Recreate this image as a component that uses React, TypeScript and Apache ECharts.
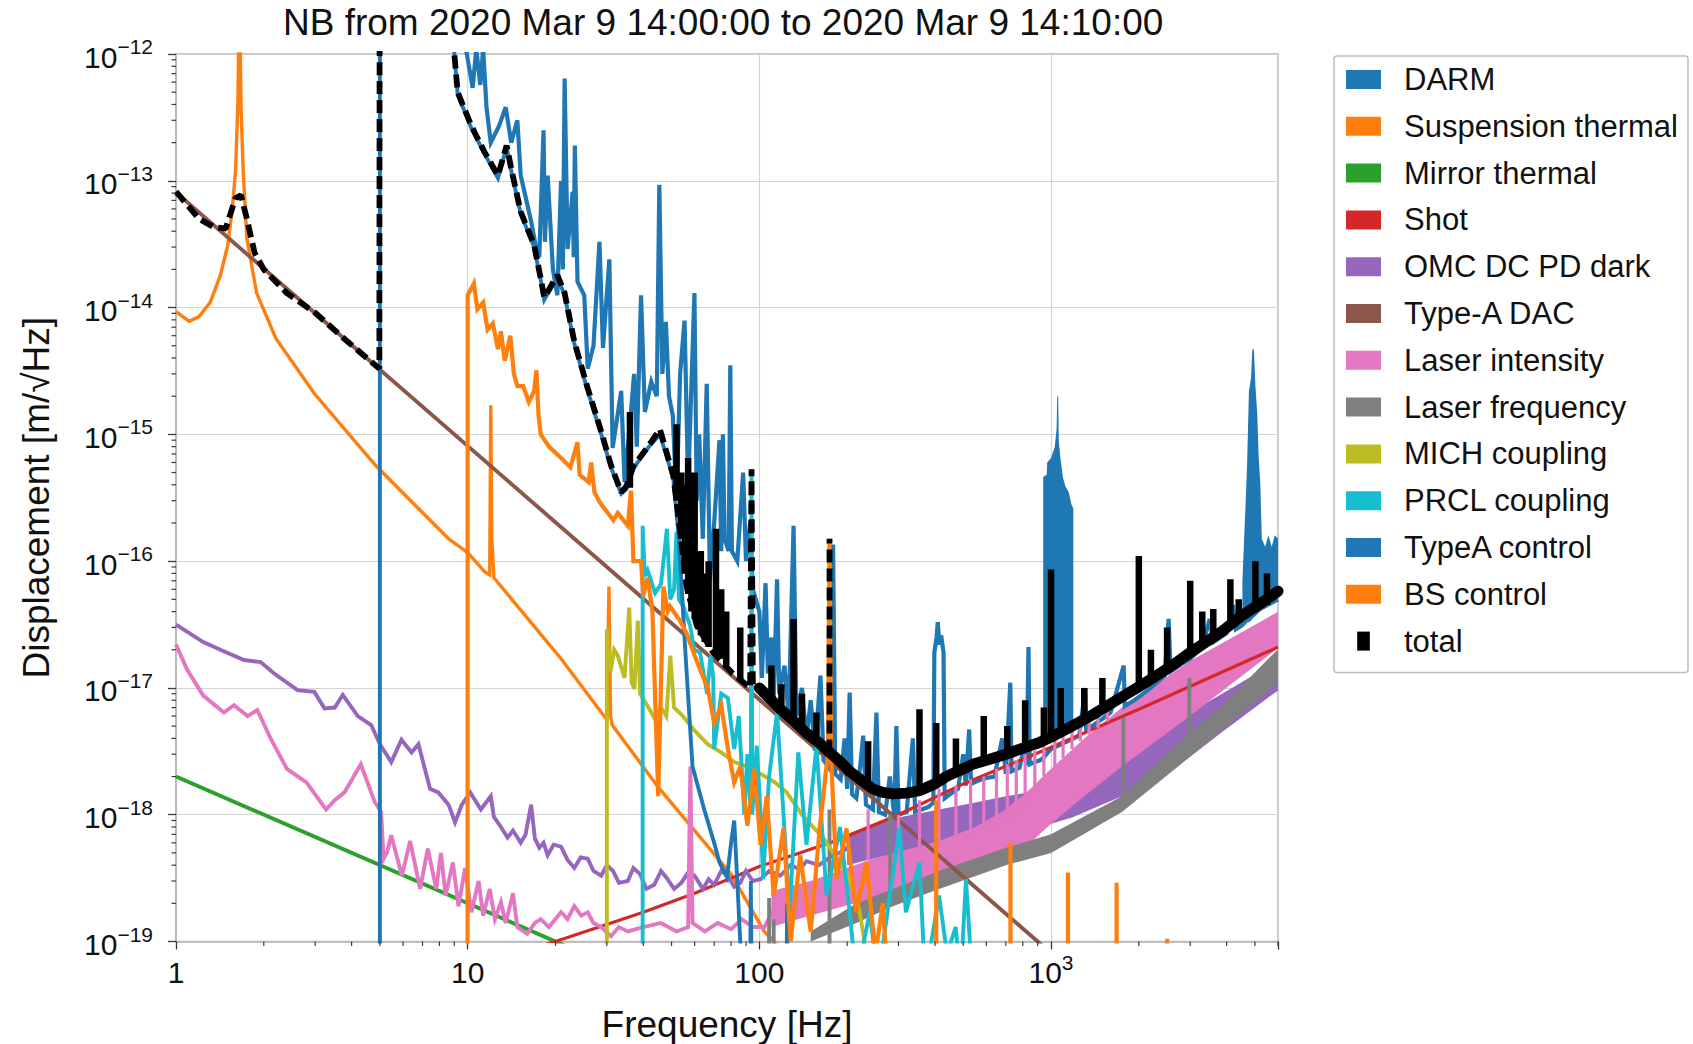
import React, { useEffect, useRef } from 'react';
import * as echarts from 'echarts';

const FONT = "'Liberation Sans', Arial, Helvetica, sans-serif";
const TITLE = 'NB from 2020 Mar 9 14:00:00 to 2020 Mar 9 14:10:00';
const X_NAME = 'Frequency [Hz]';
const Y_NAME = 'Displacement [m/√Hz]';

const NAMES = ['DARM', 'Suspension thermal', 'Mirror thermal', 'Shot', 'OMC DC PD dark', 'Type-A DAC',
  'Laser intensity', 'Laser frequency', 'MICH coupling', 'PRCL coupling', 'TypeA control', 'BS control', 'total'];
const COLORS = ['#1f77b4', '#ff7f0e', '#2ca02c', '#d62728', '#9467bd', '#8c564b',
  '#e377c2', '#7f7f7f', '#bcbd22', '#17becf', '#1f77b4', '#ff7f0e', '#000000'];

// tick labels: [base, exponent]
const X_TICK_LABELS = [['1', ''], ['10', ''], ['100', ''], ['10', '3']];
const Y_TICK_EXPONENTS = ['−19', '−18', '−17', '−16', '−15', '−14', '−13', '−12'];

// ---------- data ([Hz, m/rtHz]) ----------
const darm = [
  [9.3, 1e-11], [9.8, 1.2e-12], [10.4, 5.4e-13], [10.7, 1.1e-12], [11.05, 5.7e-13], [11.3, 1.1e-12], [11.6, 3.8e-13],
  [12.0, 2.0e-13], [12.8, 2.7e-13], [13.5, 3.8e-13], [14.1, 2.0e-13], [14.8, 3.0e-13], [15.2, 1.1e-13], [16.5, 4.8e-14],
  [17.1, 3.1e-14], [17.6, 2.5e-14], [18.2, 2.5e-13], [18.4, 3.3e-14], [18.8, 1.1e-13], [19.6, 2.0e-14], [20.3, 1.25e-14],
  [20.9, 1.0e-13], [21.2, 2.0e-14], [21.5, 6.4e-13], [22.0, 2.9e-14], [22.9, 8.2e-14], [23.1, 2.5e-14], [23.3, 1.9e-13],
  [23.8, 1.6e-14], [25.1, 1.25e-14], [25.8, 3.3e-15], [27.0, 5.0e-15], [28.3, 3.3e-14], [29.1, 4.8e-15], [30.6, 2.4e-14],
  [31.4, 7.8e-16], [33.6, 2.2e-15], [34.5, 4.2e-16], [36.0, 1.2e-15], [37.2, 3.0e-15], [38.0, 8.0e-16], [39.3, 1.25e-14],
  [40.5, 1.5e-15], [42.6, 2.6e-15], [44.5, 2.0e-15], [45.4, 9.3e-14], [46.5, 3.0e-15], [47.8, 7.7e-15], [49.0, 2.0e-15],
  [50.5, 1.4e-15], [52.0, 3.0e-16], [53.5, 3.0e-15], [55.4, 7.9e-15], [57.0, 4.0e-16], [59.9, 1.3e-14], [61.0, 3.0e-16],
  [62.2, 1.0e-15], [64.0, 1.5e-16], [66.0, 2.5e-15], [67.7, 7.2e-17], [70.0, 2.0e-16], [73.0, 9.0e-16], [74.0, 1.2e-16],
  [75.0, 1.0e-15], [76.0, 1.5e-16], [78.5, 1.2e-16], [79.5, 3.5e-15], [80.5, 1.2e-16], [84.0, 1.0e-16], [88.0, 5.0e-16],
  [90.0, 1.0e-16], [93.0, 2.0e-16], [95.0, 6.0e-17], [100, 4.0e-17],
  [102, 1.2e-17], [105, 6.7e-17], [107, 1.3e-17], [110, 2.5e-17], [112, 8e-18], [115, 7.2e-17], [117, 9e-18], [122, 1.5e-17],
  [126, 6e-18], [131, 1.9e-16], [134, 6e-18], [140, 1e-17], [145, 4e-18], [150, 8e-18], [155, 3.2e-18], [162, 1.25e-17],
  [166, 2.7e-18], [172, 2.4e-18], [176, 1.3e-16], [179, 1.3e-16], [182, 2.1e-18], [190, 1.9e-18], [196, 4e-18], [200, 1.6e-18],
  [204, 9.2e-18], [208, 1.45e-18], [215, 1.35e-18], [222, 2.5e-18], [227, 4.2e-18], [232, 1.2e-18], [245, 1.1e-18],
  [252, 6.4e-18], [257, 1.05e-18], [270, 1.0e-18], [280, 2e-18], [290, 1.0e-18], [295, 5e-18], [300, 1.0e-18], [320, 1.05e-18],
  [336, 4e-18], [342, 1.05e-18], [360, 1.1e-18], [380, 1.15e-18], [395, 1.25e-18], [398, 1.9e-17], [405, 2.5e-17],
  [409, 3.3e-17], [414, 2.2e-17], [420, 2.6e-17], [428, 1.9e-17], [432, 1.35e-18], [450, 1.45e-18], [480, 1.6e-18],
  [500, 3e-18], [510, 1.7e-18], [524, 4.7e-18], [532, 1.75e-18], [560, 1.85e-18], [600, 1.95e-18], [640, 2.0e-18], [680, 4e-18],
  [700, 2.1e-18], [725, 1.1e-17], [732, 2.2e-18], [780, 2.35e-18], [810, 3.5e-18], [825, 2.45e-18], [837, 2.1e-17],
  [845, 2.5e-18], [880, 2.6e-18], [920, 2.7e-18], [940, 2.8e-18], [1000, 3.3e-18], [1195, 4e-18], [1250, 4.2e-18],
  [1310, 1e-17], [1320, 4.6e-18], [1400, 5.1e-18], [1500, 5.7e-18], [1600, 6.4e-18], [1775, 1.5e-17], [1790, 7.2e-18],
  [1900, 7.8e-18], [2000, 8.5e-18], [2150, 9.6e-18], [2300, 1.1e-17], [2450, 1.25e-17], [2530, 3.5e-17], [2570, 1.35e-17],
  [2800, 1.55e-17], [3000, 1.7e-17], [3300, 2.1e-17], [3500, 3.5e-17], [3600, 2.3e-17], [4000, 2.7e-17], [4200, 4.5e-17],
  [4300, 2.9e-17], [4500, 3.1e-17], [5000, 4e-17], [6000, 5e-17],
];
// dense DARM peaks: [Hz, low, high]
const darmPeak1kHz = [
  [940, 4e-18, 4.6e-16], [966, 4e-18, 4.8e-16], [970, 4e-18, 6e-16], [1000, 4e-18, 6.5e-16], [1030, 4e-18, 8e-16],
  [1045, 4.2e-18, 1.1e-15], [1050, 4.2e-18, 2e-15], [1058, 4.2e-18, 2e-15], [1063, 4.2e-18, 9e-16], [1076, 4.3e-18, 6.6e-16],
  [1100, 4.3e-18, 4.5e-16], [1120, 4.3e-18, 3.9e-16], [1150, 4.4e-18, 3.5e-16], [1175, 4.4e-18, 2.8e-16], [1192, 4.4e-18, 2.6e-16],
];
const darmPeak5kHz = [
  [4530, 3.1e-17, 7e-17], [4580, 3.1e-17, 1.3e-16], [4650, 3.2e-17, 3e-16], [4700, 3.3e-17, 5.7e-16], [4770, 3.3e-17, 2.2e-15],
  [4850, 3.4e-17, 2.8e-15], [4900, 3.5e-17, 4.7e-15], [4960, 3.6e-17, 4.7e-15], [5020, 3.7e-17, 2.4e-15], [5090, 3.8e-17, 1.5e-15],
  [5150, 3.9e-17, 6.7e-16], [5220, 4e-17, 4e-16], [5280, 4.1e-17, 1.5e-16], [5420, 4.3e-17, 1.3e-16], [5560, 4.5e-17, 1.6e-16],
  [5710, 4.7e-17, 1.3e-16], [5850, 4.9e-17, 1.6e-16], [6000, 5e-17, 1.5e-16],
];

const suspensionThermal = [
  [1.0, 9.3e-15], [1.11, 7.8e-15], [1.2, 8.5e-15], [1.31, 1.1e-14], [1.42, 1.8e-14], [1.505, 3.1e-14], [1.56, 6e-14],
  [1.6, 1.2e-13], [1.63, 4e-13], [1.645, 2e-12], [1.655, 2e-12], [1.67, 4e-13], [1.70, 1.18e-13], [1.75, 3.5e-14],
  [1.89, 1.3e-14], [2.2, 5.7e-15], [2.98, 2.1e-15], [4.83, 5.7e-16], [8.6, 1.5e-16], [10, 1.17e-16], [11.4, 8.3e-17],
  [11.9, 7.8e-17], [12.0, 1.7e-15], [12.1, 1.5e-16], [12.3, 7.4e-17], [20.9, 1.7e-17], [30.0, 5.6e-18], [30.5, 6.3e-17],
  [30.9, 6e-18], [31.3, 5.1e-18], [45, 1.65e-18], [80, 3.4e-19], [104, 1.2e-19], [140, 6e-20],
];
const mirrorThermal = [[1, 2e-18], [100, 2e-20]];
const shot = [[10, 6e-20], [20, 1e-19], [40, 1.7e-19], [60, 2.4e-19], [100, 3.9e-19], [185, 6.3e-19], [300, 1e-18],
  [500, 1.75e-18], [970, 3.3e-18], [2000, 6.8e-18], [6000, 2.1e-17]];

const omcDark = [
  [1, 3.16e-17], [1.24, 2.3e-17], [1.42, 2e-17], [1.71, 1.66e-17], [1.95, 1.6e-17], [2.17, 1.3e-17], [2.61, 9.6e-18],
  [2.98, 9.3e-18], [3.23, 6.9e-18], [3.5, 7e-18], [3.73, 8.8e-18], [4.2, 6e-18], [4.67, 5.1e-18], [5.0, 3.6e-18],
  [5.47, 2.6e-18], [5.93, 3.9e-18], [6.42, 3.1e-18], [6.78, 3.6e-18], [7.43, 1.6e-18], [7.93, 1.5e-18], [8.6, 1.2e-18],
  [9.05, 8.7e-19], [9.55, 1.2e-18], [10.2, 1.5e-18], [11.1, 1.1e-18], [12.0, 1.4e-18], [12.3, 9.6e-19], [13, 8e-19],
  [13.7, 6.6e-19], [14.3, 7.5e-19], [15.2, 6e-19], [15.8, 7e-19], [16.5, 1.2e-18], [17, 6.5e-19], [17.6, 5.5e-19],
  [18.2, 6e-19], [18.8, 4.8e-19], [19.7, 5.8e-19], [20.9, 5.6e-19], [22, 4.4e-19], [23.2, 3.8e-19], [24.4, 4.6e-19],
  [25.8, 4.5e-19], [27, 3.6e-19], [28.7, 3.3e-19], [30, 4e-19], [31.5, 3.6e-19], [33, 2.9e-19], [35.4, 3e-19],
  [37, 3.8e-19], [39, 3.4e-19], [41, 2.6e-19], [43.6, 2.8e-19], [46, 3.6e-19], [48, 3.2e-19], [51, 2.6e-19],
  [54, 2.9e-19], [57, 3.5e-19], [60, 3.3e-19], [64, 2.6e-19], [67, 3.1e-19], [70, 2.8e-19], [74, 3.6e-19], [78, 3.3e-19],
  [82, 2.7e-19], [86, 2.9e-19], [90, 3.6e-19], [95, 3e-19], [101, 3.1e-19], [108, 3.6e-19], [118, 3.3e-19], [128, 4e-19],
  [138, 3.7e-19], [145, 4.3e-19], [160, 4e-19], [179, 4.8e-19], [195, 5.2e-19], [205, 5.8e-19],
];
const omcDarkBand = [
  [200, 4e-19, 7e-19], [245, 4.5e-19, 8.5e-19], [300, 5e-19, 9.5e-19], [413, 5.5e-19, 1.1e-18], [550, 6.5e-19, 1.25e-18],
  [700, 7.5e-19, 1.4e-18], [1000, 8.5e-19, 1.6e-18], [1180, 9.5e-19, 1.8e-18], [1750, 1.4e-18, 3e-18],
  [2960, 2.8e-18, 6.3e-18], [3860, 4.5e-18, 9e-18], [5900, 9.3e-18, 1.6e-17], [6000, 9.5e-18, 1.65e-17],
];

const typeADac = [[1, 8.1e-14], [1000, 8.1e-20]];

const laserIntensity = [
  [1, 2.2e-17], [1.09, 1.4e-17], [1.24, 8.7e-18], [1.46, 6.4e-18], [1.58, 7.3e-18], [1.76, 6e-18], [1.9, 6.7e-18],
  [2.11, 4e-18], [2.4, 2.3e-18], [2.8, 1.8e-18], [3.27, 1.1e-18], [3.5, 1.3e-18], [3.78, 1.5e-18], [4.3, 2.5e-18],
  [4.8, 1.26e-18], [5.05, 1.05e-18], [5.15, 4.5e-19], [5.3, 5.1e-19], [5.47, 6.9e-19], [5.95, 3.3e-19], [6.35, 6.2e-19],
  [6.87, 2.6e-19], [7.3, 5.4e-19], [7.8, 2.6e-19], [8.1, 5e-19], [8.4, 2.3e-19], [8.9, 4.2e-19], [9.3, 1.9e-19],
  [9.8, 3.8e-19], [10.3, 1.7e-19], [10.9, 3e-19], [11.3, 1.6e-19], [11.9, 2.6e-19], [12.4, 1.5e-19], [13, 2.05e-19],
  [13.5, 1.4e-19], [14.3, 2.4e-19], [14.8, 1.3e-19], [16, 1.15e-19], [17, 1.4e-19], [17.8, 1.5e-19], [19, 1.3e-19],
  [20.9, 1.7e-19], [22, 1.5e-19], [23.2, 1.9e-19], [24.5, 1.6e-19], [25.8, 1.7e-19], [27, 1.4e-19], [28.7, 1.3e-19],
  [31, 1.1e-19], [33, 1.3e-19], [35.4, 1.2e-19], [40, 1.3e-19], [46, 1.4e-19], [52, 1.2e-19], [57, 1.3e-19],
  [58, 2.4e-18], [59, 1.4e-19], [65, 1.2e-19], [72, 1.4e-19], [80, 1.25e-19], [87, 1.5e-19], [95, 1.3e-19],
  [104, 1.3e-19], [112, 1.8e-19],
];
const laserIntensityBand = [
  [110, 1.3e-19, 2.5e-19], [150, 1.6e-19, 3e-19], [245, 2.2e-19, 4.5e-19], [413, 3e-19, 6.2e-19], [550, 3.7e-19, 8e-19],
  [700, 4.5e-19, 1.1e-18], [850, 6e-19, 1.6e-18], [1000, 8.5e-19, 2.3e-18], [1300, 1.4e-18, 4e-18], [1750, 2.4e-18, 7e-18],
  [2960, 5.9e-18, 1.6e-17], [5900, 2e-17, 3.9e-17], [6000, 2.1e-17, 4e-17],
];
const laserIntensitySpikes = [
  [236, 4.4e-19, 1.1e-18], [300, 5e-19, 1e-18], [354, 5.5e-19, 1.3e-18], [413, 6e-19, 1.6e-18], [472, 6.4e-19, 1.7e-18],
  [530, 6.8e-19, 1.9e-18], [588, 7.5e-19, 2e-18], [650, 8.2e-19, 2.3e-18], [708, 9e-19, 2.5e-18], [760, 1e-18, 2.7e-18],
  [815, 1.2e-18, 3e-18], [880, 1.6e-18, 3.2e-18], [945, 2e-18, 3.5e-18], [1030, 2.4e-18, 4e-18], [1100, 2.8e-18, 4.3e-18],
  [1180, 3.3e-18, 4.6e-18], [1260, 3.8e-18, 5e-18], [1350, 4.3e-18, 5.6e-18], [1450, 4.8e-18, 6e-18], [1560, 5.4e-18, 6.5e-18],
];

const laserFrequencyBand = [
  [150, 1e-19, 1.2e-19], [215, 1.4e-19, 2e-19], [287, 1.9e-19, 2.6e-19], [413, 2.6e-19, 3.6e-19], [700, 4e-19, 5.5e-19],
  [1000, 5e-19, 7e-19], [1750, 1.05e-18, 1.4e-18], [2960, 2.8e-18, 4.4e-18], [3860, 4.7e-18, 7.2e-18],
  [5900, 1.07e-17, 1.95e-17], [6000, 1.1e-17, 2e-17],
];
const laserFrequencySpikes = [
  [108, 5e-20, 2.2e-19], [112, 5e-20, 1.5e-19], [174, 5e-20, 1.1e-18], [281, 2.2e-19, 1e-18], [1770, 1.3e-18, 5.8e-18],
  [2980, 3.5e-18, 1.2e-17],
];

const michCoupling = [
  [30.0, 1e-21], [30.0, 2.9e-17], [30.9, 1.35e-17], [31.8, 2e-17], [32.7, 1.8e-17], [34.5, 1.2e-17], [35.8, 4.3e-17],
  [36.5, 1.1e-17], [37.3, 9.8e-18], [38.3, 3.4e-17], [39, 9e-18], [41.4, 7.2e-18], [43.6, 5.8e-18], [46, 7e-18], [48, 6e-18],
  [49.5, 1.8e-17], [51, 7e-18], [54, 6.2e-18], [60, 4.6e-18], [66.5, 3.6e-18], [74, 3.1e-18], [82, 2.6e-18], [91, 2.4e-18],
  [101, 2.1e-18], [113, 1.8e-18], [124, 1.5e-18], [140, 1e-18], [166, 6.5e-19], [185, 4.5e-19], [204, 3.1e-19],
  [220, 1.8e-19], [233, 8e-20],
];

const prclCoupling = [
  [39.8, 1e-21], [39.8, 1.9e-16], [40.5, 7.6e-17], [41.4, 8.5e-17], [43.9, 5.6e-17], [46, 6.6e-17], [48.2, 1.8e-16],
  [49.5, 5e-17], [51, 6e-17], [52, 1.7e-16], [53, 5e-17], [54.9, 4.4e-17], [57.9, 3.1e-17], [59.8, 2e-17], [62.6, 1.9e-17],
  [66.2, 9e-18], [68, 1.8e-17], [69.5, 1.2e-17], [70, 3.3e-18], [74, 9e-18], [78, 8.3e-18], [82, 3.3e-18], [85, 6e-18],
  [88.8, 1e-18], [91, 3e-18], [93.5, 1e-18], [94, 5.3e-16], [94.5, 1e-18], [98, 3.5e-18], [101, 1e-18], [103, 3.1e-19],
  [108, 2e-18], [115, 6.4e-18], [121, 1e-18], [127, 1.7e-19], [136, 3.1e-18], [145, 5.8e-19], [157, 3.5e-18],
  [170, 2.3e-19], [189, 8e-19], [204, 1.7e-19], [215, 5e-20], [239, 1.7e-19], [255, 5e-20], [302, 7.8e-19],
  [318, 1.7e-19], [354, 4.2e-19], [370, 5e-20], [413, 2.3e-19], [440, 8e-20], [471, 1.3e-19], [490, 5e-20],
  [511, 3.1e-19], [537, 5e-20],
];

const typeAControl = [
  [5.0, 1e-21], [5.0, 1e-9], [8.8, 1e-9], [9.0, 1e-12], [9.24, 4.8e-13], [10.3, 2.6e-13], [11.4, 1.65e-13],
  [12.7, 1.05e-13], [13.6, 1.85e-13], [14.1, 1.2e-13], [15.2, 5.5e-14], [16.9, 3e-14], [17.8, 1.65e-14], [18.3, 1.15e-14],
  [20.3, 1.75e-14], [21.5, 1.25e-14], [23.2, 5.2e-15], [25.8, 2.2e-15], [28.7, 1e-15], [31, 5.5e-16], [33.6, 3.4e-16],
  [35, 3.7e-16], [37, 5.4e-16], [41.5, 7.8e-16], [45.6, 1e-15], [50.7, 4.5e-16], [53, 1.5e-16], [55.7, 2e-17],
  [59, 2.4e-18], [64.7, 1.1e-18], [70, 6e-19], [73, 4.2e-19], [77.5, 3.2e-19], [80, 6e-19], [82, 9e-19], [84, 3e-19],
  [86, 1e-19], [88, 5e-20], [93, 5e-20], [93.5, 3e-19], [94, 5e-20], [124, 5e-20], [124.5, 2e-19], [125, 5e-20],
];

const bsControl = [
  [9.99, 1e-21], [10.0, 1.25e-14], [10.5, 1.55e-14], [10.8, 9.7e-15], [11.3, 1.1e-14], [11.7, 6.7e-15], [12.2, 7.5e-15],
  [12.7, 4.7e-15], [13.0, 6.5e-15], [13.4, 3.8e-15], [14.0, 6e-15], [14.4, 3e-15], [14.8, 2.4e-15], [15.5, 2.4e-15],
  [16.2, 1.8e-15], [16.9, 2.2e-15], [17.2, 3.2e-15], [17.5, 1.4e-15], [17.8, 1e-15], [19, 8e-16], [20.9, 6.5e-16],
  [22.5, 5.5e-16], [23.8, 8.7e-16], [24.2, 4.8e-16], [26, 4.2e-16], [26.5, 6e-16], [27.2, 3.5e-16], [28.4, 2.9e-16],
  [31.6, 2.1e-16], [32.7, 2.4e-16], [35.4, 1.9e-16], [36.3, 3.6e-16], [37, 1e-16], [39.3, 1e-16], [40, 5.3e-17],
  [41.4, 7.4e-17], [43, 4e-17], [45, 1.4e-18], [46.9, 6.3e-17], [48.5, 4e-17], [49.4, 4.4e-17], [53.4, 3.4e-17],
  [56.3, 2.7e-17], [60, 1.8e-17], [63, 1.35e-17], [66.5, 1e-17], [70, 5.3e-18], [74, 7.3e-18], [78, 3.3e-18],
  [82, 1.8e-18], [86, 2.4e-18], [91, 8.2e-19], [96, 2.3e-18], [101, 5.8e-19], [106, 1.4e-18], [112, 2.3e-19],
  [121, 7.8e-19], [128, 1e-19], [138, 4.8e-19], [150, 1.2e-19], [161, 7.8e-19], [172, 3.1e-18], [174, 1.5e-16],
  [176, 3e-18], [184, 3.1e-19], [199, 7.8e-19], [215, 1.7e-19], [233, 4.2e-19], [250, 8e-20], [265, 2e-19], [275, 5e-20],
];
const bsControlSpikes = [
  [404, 1e-21, 1.3e-18], [726, 1e-21, 6e-19], [1143, 1e-21, 3.5e-19], [1678, 1e-21, 2.9e-19], [2500, 1e-21, 1.05e-19],
];

const totalLow = [
  [1, 8.2e-14], [1.2, 5e-14], [1.35, 4.3e-14], [1.48, 4.2e-14], [1.6, 7.3e-14], [1.67, 7.7e-14], [1.75, 5e-14],
  [1.86, 2.7e-14], [2.0, 2e-14], [2.4, 1.3e-14], [3.0, 9.1e-15], [3.8, 5.6e-15], [4.76, 3.6e-15], [4.98, 3.3e-15],
  [5.0, 1e-9], [8.8, 1e-9], [9.0, 1e-12], [9.24, 5e-13], [10.3, 2.7e-13], [11.4, 1.7e-13], [12.7, 1.1e-13],
  [13.6, 1.9e-13], [14.1, 1.25e-13], [15.2, 5.7e-14], [16.9, 3.1e-14], [17.8, 1.7e-14], [18.3, 1.2e-14], [20.3, 1.8e-14],
  [21.5, 1.3e-14], [23.2, 5.4e-15], [25.8, 2.3e-15], [28.7, 1.05e-15], [31, 5.7e-16], [33.6, 3.5e-16], [35, 3.9e-16],
  [37, 5.6e-16], [41.5, 8e-16], [45.6, 1.1e-15], [50.7, 4.7e-16], [53.4, 1.8e-16], [56.3, 6.3e-17], [61, 3.1e-17],
  [69.5, 1.9e-17], [81, 1.3e-17], [93, 1e-17], [94, 5.3e-16], [95, 1e-17], [100, 1e-17],
  [174, NaN], [174, 3.1e-18], [174, 1.5e-16],
];
const totalHigh = [
  [100, 1e-17], [110, 8e-18], [118, 6.8e-18], [130, 5.6e-18], [145, 4.4e-18], [160, 3.7e-18], [174, 3.1e-18],
  [190, 2.6e-18], [204, 2.2e-18], [225, 1.85e-18], [245, 1.6e-18], [265, 1.5e-18], [287, 1.46e-18], [320, 1.48e-18],
  [354, 1.55e-18], [400, 1.75e-18], [437, 2e-18], [490, 2.25e-18], [539, 2.5e-18], [620, 2.75e-18], [700, 3e-18],
  [800, 3.35e-18], [908, 3.7e-18], [1000, 4.1e-18], [1180, 5e-18], [1400, 6.2e-18], [1750, 8.5e-18], [2000, 1.02e-17],
  [2600, 1.5e-17], [3000, 1.9e-17], [3860, 2.8e-17], [4500, 3.7e-17], [5200, 4.6e-17], [6000, 5.8e-17],
];
const totalSpikes = [
  [36, 3.8e-16, 1.5e-15], [52, 3e-16, 1.2e-15], [54, 1.5e-16, 5e-16], [55.5, 8e-17, 4e-16], [57, 5.5e-17, 6.5e-16],
  [58.5, 4e-17, 3e-16], [60, 3.5e-17, 5e-16], [63, 2.6e-17, 1.2e-16], [65, 2.3e-17, 8e-17], [67, 2.1e-17, 1e-16],
  [71, 1.8e-17, 1.8e-16], [74, 1.7e-17, 6e-17], [77, 1.5e-17, 4e-17], [86, 1.15e-17, 3e-17], [110, 8e-18, 1.5e-17],
  [119, 6.6e-18, 1.07e-17], [131, 5.8e-18, 3.5e-17], [140, 4.8e-18, 9e-18],
  [157, 4e-18, 6.4e-18], [236, 1.6e-18, 3.8e-18], [354, 1.55e-18, 6.8e-18], [404, 1.8e-18, 5.3e-18], [472, 2.2e-18, 4e-18],
  [588, 2.6e-18, 6e-18], [708, 3e-18, 5e-18], [815, 3.4e-18, 8e-18], [945, 3.8e-18, 7e-18], [1000, 4e-18, 8.6e-17],
  [1080, 4.5e-18, 1e-17], [1300, 5.5e-18, 1e-17], [1500, 7e-18, 1.2e-17], [2000, 1e-17, 1.1e-16], [2200, 1.1e-17, 2e-17],
  [2500, 1.4e-17, 3e-17], [3000, 2e-17, 7e-17], [3300, 2.2e-17, 4e-17], [3600, 2.5e-17, 4.2e-17], [4120, 3e-17, 7.2e-17],
  [4400, 3.3e-17, 5e-17], [5020, 4e-17, 1e-16], [5500, 4.5e-17, 8e-17],
];

// ---------- helpers ----------
function spikeData(spikes: number[][]) {
  const out: any[] = [];
  spikes.forEach((s) => {
    out.push([s[0], s[1]], [s[0], s[2]], [s[0], NaN]);
  });
  return out;
}

function lineSeries(name: string, color: string, data: any[], width: number, extra?: any) {
  return Object.assign({
    type: 'line', name, data, color, showSymbol: false, symbol: 'none', clip: true, silent: true,
    lineStyle: { color, width, cap: 'butt', join: 'miter' }, connectNulls: false,
  }, extra || {});
}

function bandSeries(name: string, color: string, band: number[][]) {
  return {
    type: 'custom', name, coordinateSystem: 'cartesian2d', silent: true, color,
    data: [[band[0][0], band[0][2]]],
    renderItem: (params: any, api: any) => {
      if (params.dataIndex !== 0) return null;
      const up = band.map((b) => api.coord([b[0], b[2]]));
      const dn = band.slice().reverse().map((b) => api.coord([b[0], b[1]]));
      return { type: 'polygon', shape: { points: up.concat(dn) }, style: { fill: color } };
    },
  };
}

function decadeIndex(v: number) {
  const lg = Math.log10(v);
  const r = Math.round(lg);
  return Math.abs(lg - r) < 1e-6 ? r : null;
}

const TICK_COLOR = '#3a3a3a';
const minorX: number[] = [];
[1, 10, 100, 1000].forEach((d) => { for (let k = 2; k <= 9; k++) { if (k * d <= 6000) minorX.push(k * d); } });
const minorY: number[] = [];
for (let e = -19; e < -12; e++) { for (let k = 2; k <= 9; k++) minorY.push(k * Math.pow(10, e)); }

const minorTickSeries = {
  type: 'custom', name: '_minor', silent: true, z: 5,
  data: [[1, 1e-19]],
  renderItem: (params: any, api: any) => {
    if (params.dataIndex !== 0) return null;
    const children: any[] = [];
    minorX.forEach((v) => {
      const p = api.coord([v, 1e-19]);
      children.push({ type: 'line', shape: { x1: p[0], y1: p[1], x2: p[0], y2: p[1] + 4.5 }, style: { stroke: TICK_COLOR, lineWidth: 1.2 } });
    });
    minorY.forEach((v) => {
      const p = api.coord([1, v]);
      children.push({ type: 'line', shape: { x1: p[0] - 4.5, y1: p[1], x2: p[0], y2: p[1] }, style: { stroke: TICK_COLOR, lineWidth: 1.2 } });
    });
    return { type: 'group', children };
  },
};

const RICH = {
  b: { fontSize: 30, fontFamily: FONT, color: '#111', verticalAlign: 'bottom', padding: [6, 0, 0, 0] },
  e: { fontSize: 21, fontFamily: FONT, color: '#111', verticalAlign: 'top' },
};

function buildOption() {
  const C = (n: string) => COLORS[NAMES.indexOf(n)];
  const W = 3.9;
  const series: any[] = [
    lineSeries('DARM', C('DARM'), darm, 4.2),
    bandSeries('DARM', C('DARM'), darmPeak1kHz),
    bandSeries('DARM', C('DARM'), darmPeak5kHz),
    lineSeries('Suspension thermal', C('Suspension thermal'), suspensionThermal, 3.4),
    lineSeries('Mirror thermal', C('Mirror thermal'), mirrorThermal, W),
    lineSeries('Shot', C('Shot'), shot, 3.2),
    lineSeries('OMC DC PD dark', C('OMC DC PD dark'), omcDark, W),
    bandSeries('OMC DC PD dark', C('OMC DC PD dark'), omcDarkBand),
    lineSeries('Type-A DAC', C('Type-A DAC'), typeADac, W),
    lineSeries('Laser intensity', C('Laser intensity'), laserIntensity, W),
    bandSeries('Laser intensity', C('Laser intensity'), laserIntensityBand),
    lineSeries('Laser intensity', C('Laser intensity'), spikeData(laserIntensitySpikes), 3.2),
    bandSeries('Laser frequency', C('Laser frequency'), laserFrequencyBand),
    lineSeries('Laser frequency', C('Laser frequency'), spikeData(laserFrequencySpikes), W),
    lineSeries('MICH coupling', C('MICH coupling'), michCoupling, W),
    lineSeries('PRCL coupling', C('PRCL coupling'), prclCoupling, W),
    lineSeries('TypeA control', C('TypeA control'), typeAControl, W),
    lineSeries('BS control', C('BS control'), bsControl, 4.2),
    lineSeries('BS control', C('BS control'), spikeData(bsControlSpikes), 4.2),
    lineSeries('total', '#000', totalLow, 5.8, { lineStyle: { color: '#000', width: 5.8, type: [13, 6], cap: 'butt' } }),
    lineSeries('total', '#000', totalHigh, 11, { lineStyle: { color: '#000', width: 11, cap: 'round', join: 'round' } }),
    lineSeries('total', '#000', spikeData(totalSpikes), 6.5),
    minorTickSeries,
  ];

  return {
    animation: false,
    backgroundColor: '#ffffff',
    title: {
      text: TITLE, left: 283, top: 4, padding: 0,
      textStyle: { fontSize: 37, fontWeight: 'normal', fontFamily: FONT, color: '#111' },
    },
    legend: {
      orient: 'vertical', left: 1334, top: 56,
      data: NAMES.map((n) => (n === 'total'
        ? { name: n, icon: 'path://M0,0H2V3H0Z' }
        : { name: n, icon: 'rect' })),
      itemWidth: 35, itemHeight: 19, itemGap: 15.8,
      itemStyle: { borderWidth: 0 },
      textStyle: { fontSize: 31, fontFamily: FONT, color: '#111', lineHeight: 31, padding: [0, 0, 0, 18] },
      backgroundColor: '#ffffff', borderColor: '#bdbdbd', borderWidth: 1.5, borderRadius: 3,
      padding: [8, 10, 16, 12],
      selectedMode: false,
    },
    grid: {
      left: 176, right: 415, top: 54, bottom: 102.5, show: true, borderColor: '#b3b3b3', borderWidth: 1.5,
      backgroundColor: 'transparent', containLabel: false, outerBoundsMode: 'none',
    },
    xAxis: {
      type: 'log', logBase: 10, min: 1, max: 6000, splitNumber: 4,
      axisLine: { show: true, onZero: false, lineStyle: { color: '#b3b3b3', width: 1.5 } },
      axisTick: { show: true, inside: false, length: 8, lineStyle: { color: TICK_COLOR, width: 1.3 } },
      axisLabel: {
        margin: 10, color: '#111', rich: RICH,
        formatter: (v: number) => {
          const d = decadeIndex(v);
          if (d === null || d < 0 || d > 3) return '';
          const l = X_TICK_LABELS[d];
          return '{b|' + l[0] + '}' + (l[1] ? '{e|' + l[1] + '}' : '');
        },
      },
      splitLine: { show: true, lineStyle: { color: '#d4d4d4', width: 1.2 } },
      minorTick: { show: false }, minorSplitLine: { show: false },
      name: X_NAME, nameLocation: 'middle', nameGap: 64, nameMoveOverlap: false,
      nameTextStyle: { fontSize: 37, fontFamily: FONT, color: '#111' },
    },
    yAxis: {
      type: 'log', logBase: 10, min: 1e-19, max: 1e-12, splitNumber: 7,
      axisLine: { show: true, onZero: false, lineStyle: { color: '#b3b3b3', width: 1.5 } },
      axisTick: { show: true, inside: false, length: 8, lineStyle: { color: TICK_COLOR, width: 1.3 } },
      axisLabel: {
        margin: 23, color: '#111', rich: RICH,
        formatter: (v: number) => {
          const d = decadeIndex(v);
          if (d === null || d < -19 || d > -12) return '';
          return '{b|10}{e|' + Y_TICK_EXPONENTS[d + 19] + '}';
        },
      },
      splitLine: { show: true, lineStyle: { color: '#d4d4d4', width: 1.2 } },
      minorTick: { show: false }, minorSplitLine: { show: false },
      name: Y_NAME, nameLocation: 'middle', nameGap: 121, nameRotate: 90, nameMoveOverlap: false,
      nameTextStyle: { fontSize: 37, fontFamily: FONT, color: '#111' },
    },
    series,
  };
}

export default function App() {
  const ref = useRef<HTMLDivElement>(null);
  useEffect(() => {
    if (!ref.current) return;
    const chart = echarts.init(ref.current, null, { renderer: 'svg' });
    chart.setOption(buildOption() as any);
    return () => { chart.dispose(); };
  }, []);
  return (
    <div
      ref={ref}
      style={{ position: 'absolute', left: 0, top: 0, width: 1693, height: 1044, background: '#ffffff' }}
    />
  );
}
